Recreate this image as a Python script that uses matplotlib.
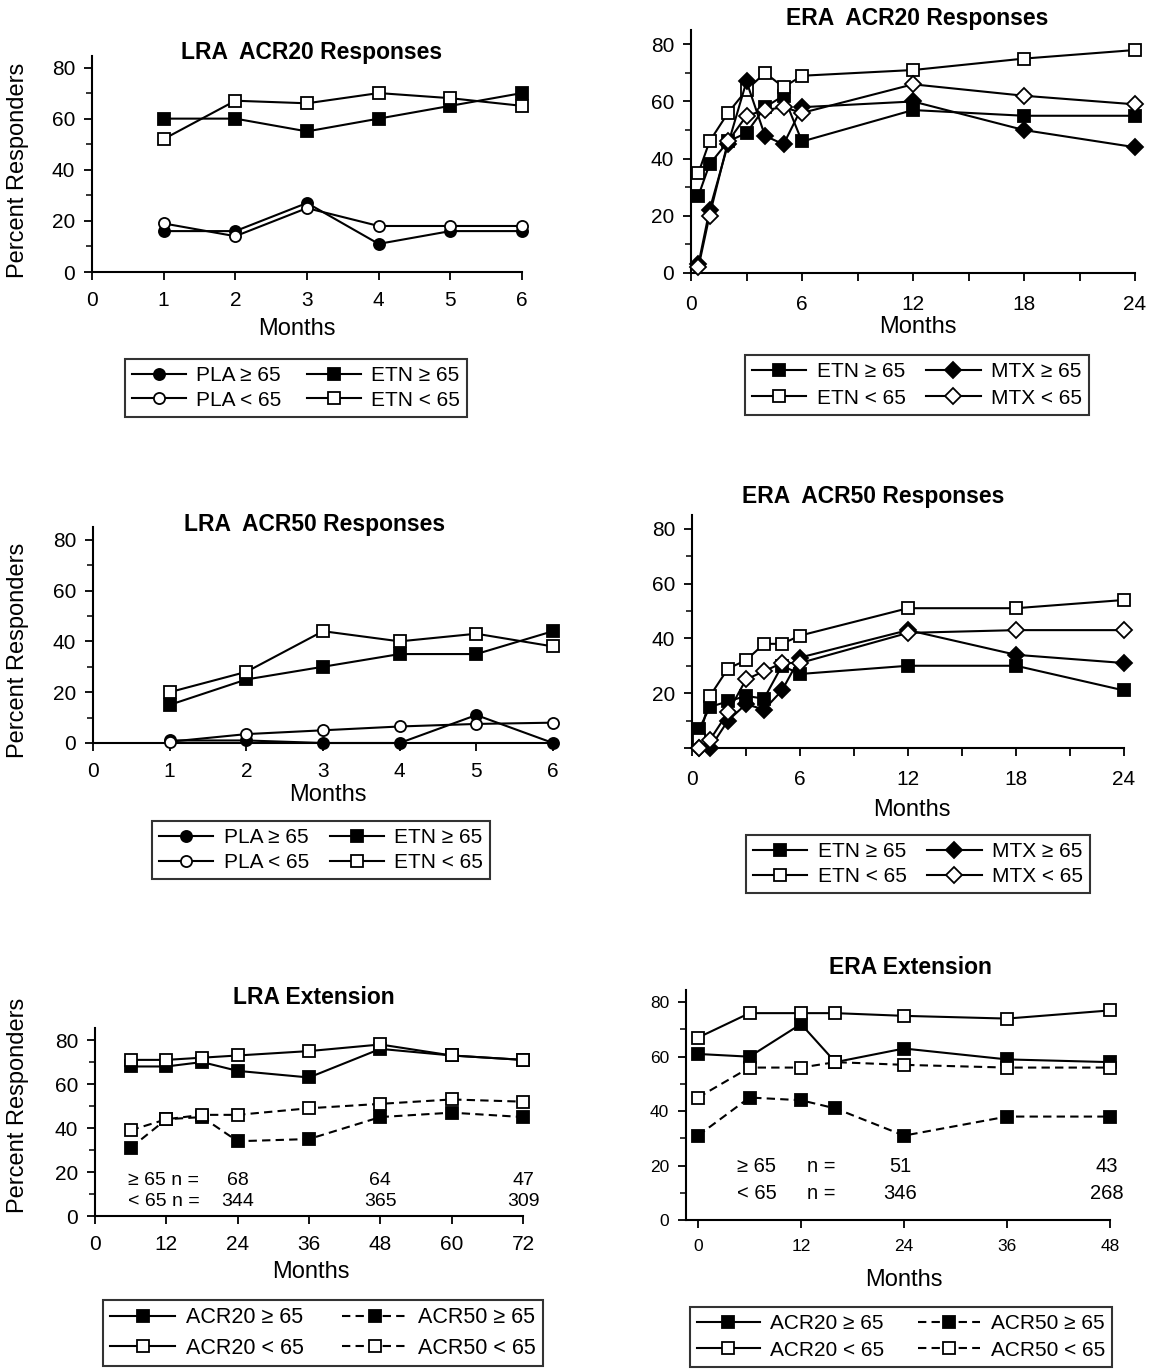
import matplotlib
matplotlib.use("Agg")
import matplotlib.pyplot as plt
from matplotlib.ticker import FixedLocator, FixedFormatter

plt.rcParams['font.family'] = ['Liberation Sans', 'DejaVu Sans']

W, H = 1151, 1369

# ---------------- data ----------------
lra_months = [1, 2, 3, 4, 5, 6]
lra20_pla_ge65 = [16, 16, 27, 11, 16, 16]
lra20_pla_lt65 = [19, 14, 25, 18, 18, 18]
lra20_etn_ge65 = [60, 60, 55, 60, 65, 70]
lra20_etn_lt65 = [52, 67, 66, 70, 68, 65]

lra50_pla_ge65 = [1, 1, 0, 0, 11, 0]
lra50_pla_lt65 = [0.5, 3.5, 5, 6.5, 7.5, 8]
lra50_etn_ge65 = [15, 25, 30, 35, 35, 44]
lra50_etn_lt65 = [20, 28, 44, 40, 43, 38]

era_months = [0.4, 1, 2, 3, 4, 5, 6, 12, 18, 24]
era20_etn_ge65 = [27, 38, 46, 49, 58, 62, 46, 57, 55, 55]
era20_etn_lt65 = [35, 46, 56, 64, 70, 65, 69, 71, 75, 78]
era20_mtx_ge65 = [3, 22, 45, 67, 48, 45, 58, 60, 50, 44]
era20_mtx_lt65 = [2, 20, 46, 55, 57, 58, 56, 66, 62, 59]

era50_etn_ge65 = [7, 15, 17, 19, 18, 30, 27, 30, 30, 21]
era50_etn_lt65 = [3, 19, 29, 32, 38, 38, 41, 51, 51, 54]
era50_mtx_ge65 = [0, 0, 10, 16, 14, 21, 33, 43, 34, 31]
era50_mtx_lt65 = [0, 3, 13, 25, 28, 31, 31, 42, 43, 43]

lraext_months = [6, 12, 18, 24, 36, 48, 60, 72]
lraext_acr20_ge65 = [68, 68, 70, 66, 63, 76, 73, 71]
lraext_acr20_lt65 = [71, 71, 72, 73, 75, 78, 73, 71]
lraext_acr50_ge65 = [31, 44, 45, 34, 35, 45, 47, 45]
lraext_acr50_lt65 = [39, 44, 46, 46, 49, 51, 53, 52]
lraext_n_months = [24, 48, 72]
lraext_n_ge65 = ["68", "64", "47"]
lraext_n_lt65 = ["344", "365", "309"]

eraext_months = [0, 6, 12, 16, 24, 36, 48]
eraext_acr20_ge65 = [61, 60, 72, 58, 63, 59, 58]
eraext_acr20_lt65 = [67, 76, 76, 76, 75, 74, 77]
eraext_acr50_ge65 = [31, 45, 44, 41, 31, 38, 38]
eraext_acr50_lt65 = [45, 56, 56, 58, 57, 56, 56]
eraext_n_months = [24, 48]
eraext_n_ge65 = ["51", "43"]
eraext_n_lt65 = ["346", "268"]

# ---------------- helpers ----------------
def rect(l, r, t, b):
    return [l / W, 1 - b / H, (r - l) / W, (b - t) / H]

def fx(x):
    return x / W

def fy(y):
    return 1 - y / H

LW = 1.5
MS = 8
DASH = (0, (4, 2.5))

def style_axes(ax, xlim, ylim, xmajor, xlabels, xminor=None, ylabels=None,
               tick_fs=15, xpad=8):
    ax.set_xlim(*xlim)
    ax.set_ylim(*ylim)
    for s in ('top', 'right'):
        ax.spines[s].set_visible(False)
    for s in ('left', 'bottom'):
        ax.spines[s].set_linewidth(1.5)
    ax.xaxis.set_major_locator(FixedLocator(xmajor))
    ax.xaxis.set_major_formatter(FixedFormatter(xlabels))
    if xminor is not None:
        ax.xaxis.set_minor_locator(FixedLocator(xminor))
    ax.yaxis.set_major_locator(FixedLocator([0, 20, 40, 60, 80]))
    if ylabels is None:
        ylabels = ['0', '20', '40', '60', '80']
    ax.yaxis.set_major_formatter(FixedFormatter(ylabels))
    ax.yaxis.set_minor_locator(FixedLocator([10, 30, 50, 70]))
    ax.tick_params(axis='both', which='major', direction='out', length=6,
                   width=1.3, labelsize=tick_fs, color='black')
    ax.tick_params(axis='x', which='major', pad=xpad)
    ax.tick_params(axis='y', which='major', pad=6)
    ax.tick_params(axis='x', which='minor', direction='out', length=6, width=1.3)
    ax.tick_params(axis='y', which='minor', direction='out', length=4, width=1.1)
    ax.set_facecolor('white')

def line(ax, x, y, marker, filled, dashed=False, label=None, ms=MS):
    return ax.plot(x, y, color='black', lw=LW,
                   linestyle=DASH if dashed else '-',
                   marker=marker, markersize=ms,
                   markerfacecolor='black' if filled else 'white',
                   markeredgecolor='black', markeredgewidth=1.3,
                   label=label, clip_on=False, zorder=3)[0]

def legend(handles, cx, cy, fs=15, hl=2.6, cs=1.0, ls=0.25):
    leg = fig.legend(handles=handles, labels=[h.get_label() for h in handles],
                     loc='center', bbox_to_anchor=(fx(cx), fy(cy)), ncol=2,
                     frameon=True, fancybox=False, edgecolor='black',
                     fontsize=fs, handlelength=hl, columnspacing=cs,
                     handletextpad=0.5, labelspacing=ls, borderpad=0.35)
    leg.get_frame().set_linewidth(1.5)
    return leg

fig = plt.figure(figsize=(W / 100, H / 100), dpi=100)
fig.patch.set_facecolor('white')

TFS = 16.5   # title
LFS = 17     # axis labels

# ---------------- Panel 1: LRA ACR20 ----------------
ax1 = fig.add_axes(rect(92, 522, 56, 272))
style_axes(ax1, (0, 6), (0, 84.5), [0, 1, 2, 3, 4, 5, 6],
           ['0', '1', '2', '3', '4', '5', '6'])
h_pla_ge = line(ax1, lra_months, lra20_pla_ge65, 'o', True, label='PLA ≥ 65')
h_pla_lt = line(ax1, lra_months, lra20_pla_lt65, 'o', False, label='PLA < 65')
h_etn_ge = line(ax1, lra_months, lra20_etn_ge65, 's', True, label='ETN ≥ 65')
h_etn_lt = line(ax1, lra_months, lra20_etn_lt65, 's', False, label='ETN < 65')
fig.text(fx(312), fy(52), 'LRA  ACR20 Responses', ha='center', va='center',
         fontsize=TFS, fontweight='bold')
fig.text(fx(297), fy(329), 'Months', ha='center', va='center', fontsize=LFS)
fig.text(fx(18), fy(170), 'Percent Responders', ha='center', va='center',
         fontsize=LFS, rotation=90)
legend([h_pla_ge, h_pla_lt, h_etn_ge, h_etn_lt], 296, 388, cs=1.2)

# ---------------- Panel 2: ERA ACR20 ----------------
ax2 = fig.add_axes(rect(691, 1135, 30, 273))
style_axes(ax2, (0, 24), (0, 85), [0, 6, 12, 18, 24],
           ['0', '6', '12', '18', '24'], xminor=[3, 9, 15, 21], xpad=10)
e1 = line(ax2, era_months, era20_etn_ge65, 's', True, label='ETN ≥ 65')
e2 = line(ax2, era_months, era20_etn_lt65, 's', False, label='ETN < 65')
e3 = line(ax2, era_months, era20_mtx_ge65, 'D', True, label='MTX ≥ 65', ms=8.5)
e4 = line(ax2, era_months, era20_mtx_lt65, 'D', False, label='MTX < 65', ms=8.5)
fig.text(fx(917), fy(19), 'ERA  ACR20 Responses', ha='center', va='center',
         fontsize=TFS, fontweight='bold')
fig.text(fx(918), fy(327), 'Months', ha='center', va='center', fontsize=LFS)
legend([e1, e2, e3, e4], 917, 385, ls=0.35)

# ---------------- Panel 3: LRA ACR50 ----------------
ax3 = fig.add_axes(rect(93, 553, 527, 743))
style_axes(ax3, (0, 6), (0, 85), [0, 1, 2, 3, 4, 5, 6],
           ['0', '1', '2', '3', '4', '5', '6'])
p1 = line(ax3, lra_months, lra50_pla_ge65, 'o', True, label='PLA ≥ 65')
p2 = line(ax3, lra_months, lra50_pla_lt65, 'o', False, label='PLA < 65')
p3 = line(ax3, lra_months, lra50_etn_ge65, 's', True, label='ETN ≥ 65')
p4 = line(ax3, lra_months, lra50_etn_lt65, 's', False, label='ETN < 65')
fig.text(fx(315), fy(525), 'LRA  ACR50 Responses', ha='center', va='center',
         fontsize=TFS, fontweight='bold')
fig.text(fx(328), fy(795), 'Months', ha='center', va='center', fontsize=LFS)
fig.text(fx(18), fy(650), 'Percent Responders', ha='center', va='center',
         fontsize=LFS, rotation=90)
legend([p1, p2, p3, p4], 321, 850, ls=0.3)

# ---------------- Panel 4: ERA ACR50 ----------------
ax4 = fig.add_axes(rect(692, 1124, 515, 748))
style_axes(ax4, (0, 24), (0, 85), [0, 6, 12, 18, 24],
           ['0', '6', '12', '18', '24'], xminor=[3, 9, 15, 21],
           ylabels=['', '20', '40', '60', '80'], xpad=10)
f1 = line(ax4, era_months, era50_etn_ge65, 's', True, label='ETN ≥ 65')
f2 = line(ax4, era_months, era50_etn_lt65, 's', False, label='ETN < 65')
f3 = line(ax4, era_months, era50_mtx_ge65, 'D', True, label='MTX ≥ 65', ms=8.5)
f4 = line(ax4, era_months, era50_mtx_lt65, 'D', False, label='MTX < 65', ms=8.5)
fig.text(fx(873), fy(497), 'ERA  ACR50 Responses', ha='center', va='center',
         fontsize=TFS, fontweight='bold')
fig.text(fx(912), fy(810), 'Months', ha='center', va='center', fontsize=LFS)
legend([f1, f2, f3, f4], 918, 864, ls=0.3)

# ---------------- Panel 5: LRA Extension ----------------
ax5 = fig.add_axes(rect(95, 523, 1028, 1216))
style_axes(ax5, (0, 72), (0, 85.5), [0, 12, 24, 36, 48, 60, 72],
           ['0', '12', '24', '36', '48', '60', '72'])
g1 = line(ax5, lraext_months, lraext_acr20_ge65, 's', True, label='ACR20 ≥ 65')
g2 = line(ax5, lraext_months, lraext_acr20_lt65, 's', False, label='ACR20 < 65')
g3 = line(ax5, lraext_months, lraext_acr50_ge65, 's', True, dashed=True, label='ACR50 ≥ 65')
g4 = line(ax5, lraext_months, lraext_acr50_lt65, 's', False, dashed=True, label='ACR50 < 65')
ax5.text(5.5, 16, '≥ 65 n =', ha='left', va='center', fontsize=14)
ax5.text(5.5, 6.8, '< 65 n =', ha='left', va='center', fontsize=14)
for m, a, b in zip(lraext_n_months, lraext_n_ge65, lraext_n_lt65):
    ax5.text(m, 16, a, ha='center', va='center', fontsize=14)
    ax5.text(m, 6.8, b, ha='center', va='center', fontsize=14)
fig.text(fx(314), fy(998), 'LRA Extension', ha='center', va='center',
         fontsize=TFS, fontweight='bold')
fig.text(fx(311), fy(1272), 'Months', ha='center', va='center', fontsize=LFS)
fig.text(fx(18), fy(1105), 'Percent Responders', ha='center', va='center',
         fontsize=LFS, rotation=90)
legend([g1, g2, g3, g4], 323, 1333, fs=15.5, hl=3.0, cs=1.8, ls=0.45)

# ---------------- Panel 6: ERA Extension ----------------
ax6 = fig.add_axes(rect(686, 1110, 990, 1220))
style_axes(ax6, (-1.4, 48), (0, 84.5), [0, 12, 24, 36, 48],
           ['0', '12', '24', '36', '48'], tick_fs=12.5, xpad=8)
k1 = line(ax6, eraext_months, eraext_acr20_ge65, 's', True, label='ACR20 ≥ 65')
k2 = line(ax6, eraext_months, eraext_acr20_lt65, 's', False, label='ACR20 < 65')
k3 = line(ax6, eraext_months, eraext_acr50_ge65, 's', True, dashed=True, label='ACR50 ≥ 65')
k4 = line(ax6, eraext_months, eraext_acr50_lt65, 's', False, dashed=True, label='ACR50 < 65')
ax6.text(6.8, 19.5, '≥ 65', ha='center', va='center', fontsize=14.5)
ax6.text(6.8, 9.6, '< 65', ha='center', va='center', fontsize=14.5)
ax6.text(14.4, 19.5, 'n =', ha='center', va='center', fontsize=14.5)
ax6.text(14.4, 9.6, 'n =', ha='center', va='center', fontsize=14.5)
for m, a, b in zip(eraext_n_months, eraext_n_ge65, eraext_n_lt65):
    ax6.text(m - 0.4, 19.5, a, ha='center', va='center', fontsize=14.5)
    ax6.text(m - 0.4, 9.6, b, ha='center', va='center', fontsize=14.5)
fig.text(fx(910), fy(968), 'ERA Extension', ha='center', va='center',
         fontsize=TFS, fontweight='bold')
fig.text(fx(904), fy(1280), 'Months', ha='center', va='center', fontsize=LFS)
legend([k1, k2, k3, k4], 901, 1337, fs=15, hl=3.0, cs=1.6, ls=0.35)

fig.savefig('out.png', dpi=100, facecolor='white')
